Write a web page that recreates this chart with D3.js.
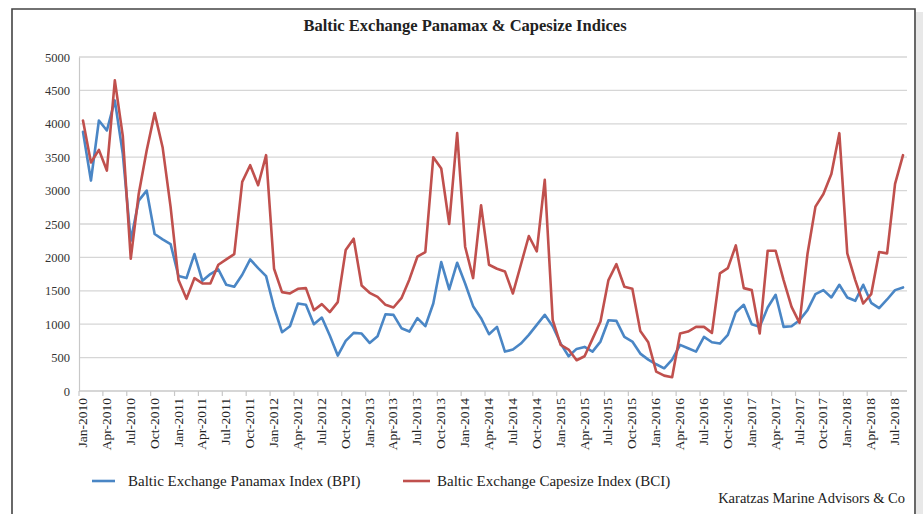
<!DOCTYPE html>
<html><head><meta charset="utf-8">
<script src="https://cdn.jsdelivr.net/npm/d3@7"></script>
<style>body{margin:0;background:#fff;}svg{display:block;}</style>
</head><body>
<script>
const months = [
"Jan-2010","Feb-2010","Mar-2010","Apr-2010","May-2010","Jun-2010","Jul-2010","Aug-2010","Sep-2010","Oct-2010","Nov-2010","Dec-2010",
"Jan-2011","Feb-2011","Mar-2011","Apr-2011","May-2011","Jun-2011","Jul-2011","Aug-2011","Sep-2011","Oct-2011","Nov-2011","Dec-2011",
"Jan-2012","Feb-2012","Mar-2012","Apr-2012","May-2012","Jun-2012","Jul-2012","Aug-2012","Sep-2012","Oct-2012","Nov-2012","Dec-2012",
"Jan-2013","Feb-2013","Mar-2013","Apr-2013","May-2013","Jun-2013","Jul-2013","Aug-2013","Sep-2013","Oct-2013","Nov-2013","Dec-2013",
"Jan-2014","Feb-2014","Mar-2014","Apr-2014","May-2014","Jun-2014","Jul-2014","Aug-2014","Sep-2014","Oct-2014","Nov-2014","Dec-2014",
"Jan-2015","Feb-2015","Mar-2015","Apr-2015","May-2015","Jun-2015","Jul-2015","Aug-2015","Sep-2015","Oct-2015","Nov-2015","Dec-2015",
"Jan-2016","Feb-2016","Mar-2016","Apr-2016","May-2016","Jun-2016","Jul-2016","Aug-2016","Sep-2016","Oct-2016","Nov-2016","Dec-2016",
"Jan-2017","Feb-2017","Mar-2017","Apr-2017","May-2017","Jun-2017","Jul-2017","Aug-2017","Sep-2017","Oct-2017","Nov-2017","Dec-2017",
"Jan-2018","Feb-2018","Mar-2018","Apr-2018","May-2018","Jun-2018","Jul-2018","Aug-2018"];

const bpi = [3880,3150,4050,3900,4350,3550,2250,2850,3000,2350,2270,2200,
1720,1690,2050,1650,1750,1820,1590,1560,1740,1970,1840,1720,
1250,880,970,1310,1290,1000,1100,830,530,750,870,860,
720,820,1150,1140,940,890,1090,970,1310,1930,1520,1920,
1610,1270,1090,850,960,590,620,710,840,990,1140,970,
710,520,630,660,590,740,1060,1050,810,740,560,470,
400,340,470,690,640,590,810,730,710,840,1180,1290,
1000,960,1250,1440,960,970,1060,1210,1450,1510,1400,1590,
1400,1350,1590,1320,1240,1370,1510,1550];

const bci = [4050,3420,3610,3300,4650,3820,1980,2950,3600,4160,3650,2760,
1660,1380,1690,1610,1610,1890,1970,2050,3130,3380,3080,3530,
1830,1480,1460,1530,1540,1210,1300,1180,1330,2110,2280,1580,
1470,1410,1290,1250,1390,1670,2010,2080,3500,3330,2500,3860,
2160,1690,2780,1890,1830,1790,1460,1890,2320,2090,3160,1060,
690,620,460,520,780,1040,1660,1900,1560,1530,900,730,
290,230,205,860,890,960,960,870,1760,1840,2180,1540,
1510,860,2100,2100,1660,1260,1020,2050,2760,2950,3250,3860,
2060,1660,1310,1450,2080,2060,3100,3530];

const yTicks = [0,500,1000,1500,2000,2500,3000,3500,4000,4500,5000];
const xTickLabels = months.filter((d,i)=>i%3===0);

const title = "Baltic Exchange Panamax & Capesize Indices";
const seriesNames = ["Baltic Exchange Panamax Index (BPI)","Baltic Exchange Capesize Index (BCI)"];
const colors = ["#4a86c5","#c0504d"];
const source = "Karatzas Marine Advisors & Co";

const W=923,H=514;
const FONT = "'Liberation Serif','Times New Roman',serif";
const svg = d3.select("body").append("svg").attr("width",W).attr("height",H)
  .style("font-family",FONT);

svg.append("rect").attr("x",0).attr("y",0).attr("width",W).attr("height",H).attr("fill","#fff");
svg.append("rect").attr("x",916).attr("y",12).attr("width",7).attr("height",H).attr("fill","#e8e8e8");
svg.append("path").attr("d",`M12,${H+2}V9H915V${H+2}`).attr("fill","none").attr("stroke","#444").attr("stroke-width",1.6);

const x = d3.scaleBand().domain(months).range([79,907]).padding(0);
const y = d3.scaleLinear().domain([0,5000]).range([391,57]);
const cx = m => x(m)+x.bandwidth()/2;

svg.append("g").selectAll("line").data(yTicks.filter(d=>d>0)).join("line")
  .attr("x1",79).attr("x2",907).attr("y1",d=>y(d)).attr("y2",d=>y(d))
  .attr("stroke","#d6d6d6").attr("stroke-width",1.3);

const ya = svg.append("g").attr("transform","translate(79,0)")
  .call(d3.axisLeft(y).tickValues(yTicks).tickFormat(d3.format("d")).tickSize(0).tickPadding(9));
ya.select(".domain").attr("stroke","#c8c8c8").attr("stroke-width",1.2);
ya.selectAll("text").style("font-family",FONT).style("font-size","12.5px").attr("fill","#333");

svg.append("line").attr("x1",79).attr("x2",907).attr("y1",391).attr("y2",391)
  .attr("stroke","#c8c8c8").attr("stroke-width",1.3);
svg.append("g").selectAll("line").data(xTickLabels).join("line")
  .attr("x1",d=>x(d)).attr("x2",d=>x(d)).attr("y1",391).attr("y2",396)
  .attr("stroke","#c8c8c8").attr("stroke-width",1.2);
svg.append("g").selectAll("text").data(xTickLabels).join("text")
  .attr("transform",d=>`translate(${cx(d)+4},398) rotate(-90)`)
  .attr("text-anchor","end").attr("fill","#222")
  .style("font-size","13.5px").text(d=>d);

const line = d3.line().x((d,i)=>cx(months[i])).y(d=>y(d));
[bpi,bci].forEach((s,k)=>{
  svg.append("path").datum(s).attr("d",line).attr("fill","none")
    .attr("stroke",colors[k]).attr("stroke-width",2.6)
    .attr("stroke-linejoin","round").attr("stroke-linecap","round");
});

svg.append("text").attr("x",465).attr("y",31).attr("text-anchor","middle")
  .style("font-size","16.5px").style("font-weight","bold").attr("fill","#222").text(title);

const leg = [{x1:92,x2:115,tx:128},{x1:403,x2:430,tx:437}];
leg.forEach((l,k)=>{
  svg.append("line").attr("x1",l.x1).attr("x2",l.x2).attr("y1",481).attr("y2",481)
    .attr("stroke",colors[k]).attr("stroke-width",2.6);
  svg.append("text").attr("x",l.tx).attr("y",486).style("font-size","15px")
    .attr("fill","#222").text(seriesNames[k]);
});
svg.append("text").attr("x",905).attr("y",503).attr("text-anchor","end")
  .style("font-size","14.5px").attr("fill","#222").text(source);
</script>
</body></html>
